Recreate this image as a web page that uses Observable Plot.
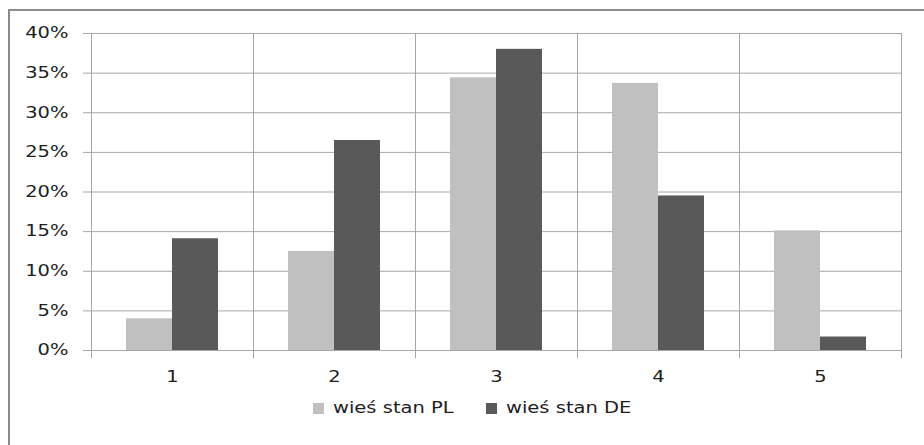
<!DOCTYPE html>
<html>
<head>
<meta charset="utf-8">
<script src="https://cdn.jsdelivr.net/npm/d3@7"></script>
<script src="https://cdn.jsdelivr.net/npm/@observablehq/plot@0.6"></script>
<style>
  html, body { margin: 0; padding: 0; background: #fff; }
  #wrap { position: relative; width: 924px; height: 445px; overflow: hidden; background: #fff; }
  #border { position: absolute; left: 8px; top: 9px; width: 930px; height: 450px;
            border-left: 2px solid #8c8c8c; border-top: 2px solid #8c8c8c; box-sizing: border-box; }
  #chart { position: absolute; left: 0; top: 0; }
  #chart svg text { font-family: "DejaVu Sans", sans-serif; font-size: 15px; fill: #1e1e1e; }
  #legend { position: absolute; left: 0; top: 0; width: 924px; height: 445px; pointer-events: none;
            font-family: "DejaVu Sans", sans-serif; font-size: 15px; color: #1e1e1e; white-space: nowrap; }
  .sw { position: absolute; width: 11px; height: 11px; top: 403px; }
  .lt { position: absolute; top: 399px; line-height: 18px; transform: scaleX(1.3); transform-origin: left center; }
</style>
</head>
<body>
<div id="wrap">
  <div id="border"></div>
  <div id="chart"></div>
  <div id="legend"></div>
</div>
<script>
const categories = ["1", "2", "3", "4", "5"];
const seriesNames = ["wieś stan PL", "wieś stan DE"];
const valuesPL = [4.0, 12.5, 34.4, 33.7, 15.1];
const valuesDE = [14.1, 26.5, 38.0, 19.5, 1.7];
const yTicks = [0, 5, 10, 15, 20, 25, 30, 35, 40];
const seriesColors = ["#c0c0c0", "#595959"];

const data = [];
categories.forEach((c, i) => {
  data.push({category: c, series: seriesNames[0], value: valuesPL[i]});
  data.push({category: c, series: seriesNames[1], value: valuesDE[i]});
});

const gridColor = "#a6a6a6";
const textStretch = 1.3;

const chart = Plot.plot({
  width: 924,
  height: 390,
  marginLeft: 91,
  marginRight: 23,
  marginTop: 33,
  marginBottom: 40,
  style: {background: "transparent", fontFamily: "DejaVu Sans", fontSize: "15px", color: "#1e1e1e", overflow: "visible"},
  fx: {domain: categories, padding: 0, label: null, axis: "bottom", tickSize: 0, tickPadding: 21},
  x: {domain: seriesNames, axis: null, paddingInner: 0, paddingOuter: 0.76},
  y: {domain: [0, 40], axis: null},
  color: {domain: seriesNames, range: seriesColors},
  marks: [
    Plot.gridY(yTicks, {stroke: gridColor, strokeOpacity: 1, strokeWidth: 1}),
    Plot.frame({anchor: "left", stroke: gridColor, strokeWidth: 1, insetBottom: -7}),
    Plot.frame({anchor: "right", stroke: gridColor, strokeWidth: 1, insetBottom: -7}),
    Plot.barY(data, {fx: "category", x: "series", y: "value", fill: "series", inset: 0}),
    Plot.axisY(yTicks, {tickSize: 8, tickPadding: 15, tickFormat: d => d + "%", stroke: gridColor, fill: "#1e1e1e", label: null})
  ]
});
// stretch glyphs horizontally around their anchor point (the reference font is wide)
chart.querySelectorAll("text").forEach(t => {
  const tr = t.getAttribute("transform") || "";
  t.setAttribute("transform", `${tr} scale(${textStretch},1)`);
});
document.getElementById("chart").appendChild(chart);

const legend = document.getElementById("legend");
const legendSwatchLeft = [313, 486];
const legendTextLeft = [333, 506];
seriesNames.forEach((s, i) => {
  const sw = document.createElement("span");
  sw.className = "sw";
  sw.style.left = legendSwatchLeft[i] + "px";
  sw.style.background = seriesColors[i];
  const t = document.createElement("span");
  t.className = "lt";
  t.style.left = legendTextLeft[i] + "px";
  t.textContent = s;
  legend.appendChild(sw);
  legend.appendChild(t);
});
</script>
</body>
</html>
